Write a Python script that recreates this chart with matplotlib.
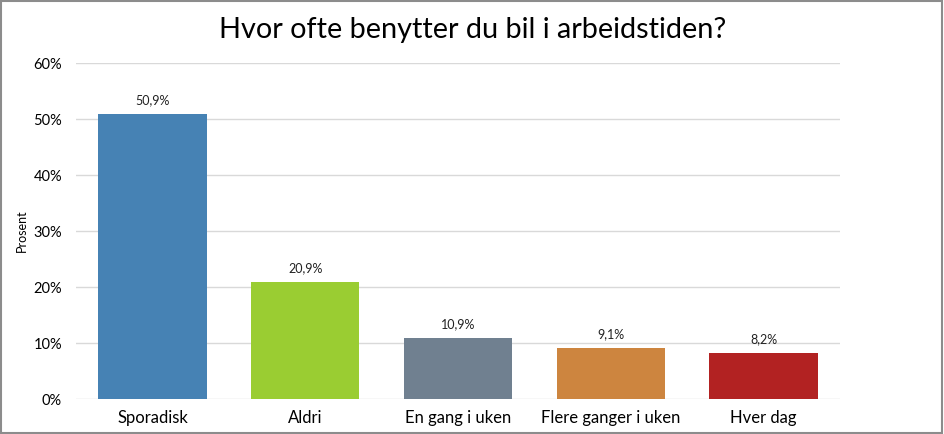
import matplotlib.pyplot as plt
from matplotlib.patches import Rectangle
from matplotlib.ticker import FuncFormatter

categories = ["Sporadisk", "Aldri", "En gang i uken", "Flere ganger i uken", "Hver dag"]
values = [50.9, 20.9, 10.9, 9.1, 8.2]
colors = ["#4682B4", "#9ACD32", "#708090", "#CD853F", "#B22222"]

plt.rcParams['font.family'] = ['Lato', 'DejaVu Sans']

fig = plt.figure(figsize=(9.45, 4.34), dpi=100)
ax = fig.add_axes([0.0804, 0.0806, 0.8085, 0.7742])

x = range(len(categories))
bars = ax.bar(x, values, width=0.71, color=colors, zorder=3)
for b, v in zip(bars, values):
    ax.text(b.get_x() + b.get_width() / 2, v + 1.4, f"{v:.1f}%".replace(".", ","),
            ha="center", va="bottom", fontsize=9, color="#222222")

ax.set_xlim(-0.5, len(categories) - 0.5)
ax.set_ylim(0, 60)
ax.set_yticks(range(0, 61, 10))
ax.yaxis.set_major_formatter(FuncFormatter(lambda v, p: f"{int(v)}%"))
ax.grid(axis="y", color="#d9d9d9", linewidth=1, zorder=0)
for s in ax.spines.values():
    s.set_visible(False)
ax.tick_params(axis="both", length=0)
ax.tick_params(axis="y", labelsize=10.5, pad=10)
ax.set_xticks(list(x))
ax.set_xticklabels(categories, fontsize=12)
ax.tick_params(axis="x", pad=8)
ax.set_ylabel("Prosent", fontsize=9, labelpad=4)

fig.text(0.5, 0.93, "Hvor ofte benytter du bil i arbeidstiden?", ha="center", va="center",
         fontsize=20.8)

fig.patches.append(Rectangle((0.001, 0.003), 0.996, 0.995, transform=fig.transFigure,
                             fill=False, edgecolor="#8c8c8c", linewidth=1.5))

fig.savefig("out.png", dpi=100)
